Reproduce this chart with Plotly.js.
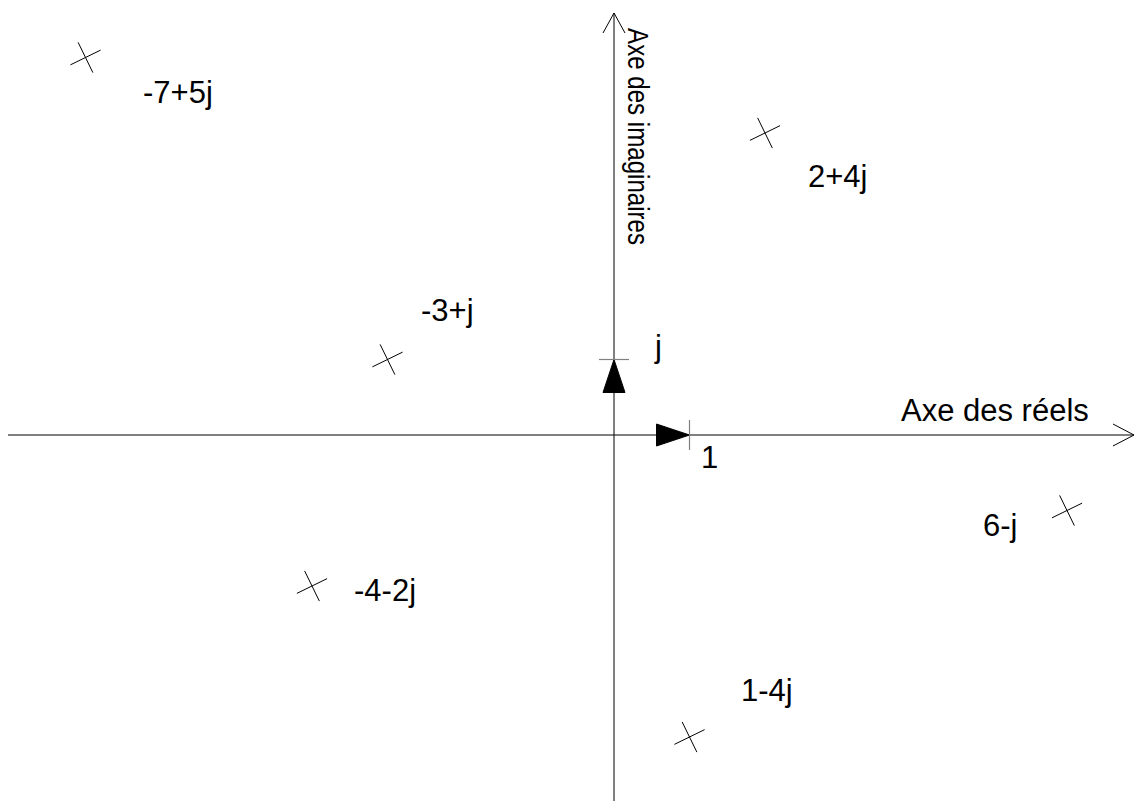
<!DOCTYPE html>
<html>
<head>
<meta charset="utf-8">
<script src="https://cdn.plot.ly/plotly-3.0.1.min.js"></script>
<style>
    html, body { margin: 0; padding: 0; background: #ffffff; }
    #plan-complexe { width: 1135px; height: 801px; }
</style>
</head>
<body>
<div id="plan-complexe"></div>
<script>
// Points of the complex plane
const realParts = [-7, 2, -3, 6, -4, 1];
const imagParts = [5, 4, 1, -1, -2, -4];
const pointLabels = ['-7+5j', '2+4j', '-3+j', '6-j', '-4-2j', '1-4j'];

// Unit vectors
const unitLabels = ['1', 'j'];

// Axis titles
const axisTitles = ['Axe des réels', 'Axe des imaginaires'];

const W = 1135;
const H = 801;
const ORIGIN = { x: 614, y: 435 };   // pixel position of 0+0j
const UNIT = 75.5;                    // pixels per unit

const FONT = { family: '"Liberation Sans", Arial, sans-serif', size: 31, color: '#000000' };
const VFONT = { family: '"Liberation Sans", Arial, sans-serif', size: 29, color: '#000000' };
const VTITLE_LENGTH = 217;            // the vertical title is drawn condensed

// label offsets from each point, in screen pixels (right, down)
const labelShift = [[92, 35], [72, 43], [60, -49], [-67, 15], [73, 4], [77, -47]];

const crosses = {
    x: realParts,
    y: imagParts,
    mode: 'markers',
    type: 'scatter',
    hoverinfo: 'skip',
    marker: {
        symbol: 'cross-thin',
        size: 24,
        angle: -26,
        color: '#000000',
        line: { color: '#000000', width: 1 }
    }
};

const centered = { showarrow: false, xanchor: 'center', yanchor: 'middle' };

const annotations = pointLabels.map((t, i) => Object.assign({
    x: realParts[i],
    y: imagParts[i],
    text: t,
    xshift: labelShift[i][0],
    yshift: -labelShift[i][1],
    font: FONT
}, centered));

// unit vector labels
annotations.push(Object.assign({ x: 1, y: 0, text: unitLabels[0], xshift: 20, yshift: -22, font: FONT }, centered));
annotations.push(Object.assign({ x: 0, y: 1, text: unitLabels[1], xshift: 44, yshift: 13, font: FONT }, centered));

// axis titles
annotations.push(Object.assign({
    xref: 'paper', x: 995 / W, y: 0, text: axisTitles[0], yshift: 25, font: FONT
}, centered));
annotations.push(Object.assign({
    x: 0, yref: 'paper', y: 1 - 136 / H, text: axisTitles[1], xshift: 24, textangle: 90, font: VFONT
}, centered));

const axisLine = { color: '#000000', width: 1 };
const tickLine = { color: '#808080', width: 1.2 };

function pixelPath(xref, xanchor, yref, yanchor, path, extra) {
    return Object.assign({
        type: 'path', xref, xanchor, xsizemode: 'pixel',
        yref, yanchor, ysizemode: 'pixel', path, line: axisLine
    }, extra || {});
}

const shapes = [
    // real axis
    { type: 'line', xref: 'paper', x0: 8 / W, x1: 1134 / W, yref: 'y', y0: 0, y1: 0, line: axisLine },
    pixelPath('paper', 1134 / W, 'y', 0, 'M-21,11 L0,0 L-21,-11'),
    // imaginary axis
    { type: 'line', xref: 'x', x0: 0, x1: 0, yref: 'paper', y0: 0, y1: 1 - 13 / H, line: axisLine },
    pixelPath('x', 0, 'paper', 1 - 13 / H, 'M-11,-20 L0,0 L11,-20'),
    // unit vector 1
    pixelPath('x', 1, 'y', 0, 'M0,0 L-33,11 L-33,-11 Z', { fillcolor: '#000000' }),
    pixelPath('x', 1, 'y', 0, 'M0,15 L0,-15', { line: tickLine }),
    // unit vector j
    pixelPath('x', 0, 'y', 1, 'M0,0 L-11,-33 L11,-33 Z', { fillcolor: '#000000' }),
    pixelPath('x', 0, 'y', 1, 'M-15,0 L15,0', { line: tickLine })
];

const hiddenAxis = { visible: false, showgrid: false, zeroline: false, fixedrange: true };

const layout = {
    width: W,
    height: H,
    margin: { l: 0, r: 0, t: 0, b: 0, pad: 0 },
    paper_bgcolor: '#ffffff',
    plot_bgcolor: '#ffffff',
    showlegend: false,
    xaxis: Object.assign({ range: [-ORIGIN.x / UNIT, (W - ORIGIN.x) / UNIT] }, hiddenAxis),
    yaxis: Object.assign({ range: [-(H - ORIGIN.y) / UNIT, ORIGIN.y / UNIT] }, hiddenAxis),
    shapes,
    annotations
};

Plotly.newPlot('plan-complexe', [crosses], layout, { staticPlot: true }).then(gd => {
    // squeeze the vertical title like in the original drawing
    gd.querySelectorAll('text.annotation-text').forEach(el => {
        if (el.textContent === axisTitles[1]) {
            el.setAttribute('textLength', VTITLE_LENGTH);
            el.setAttribute('lengthAdjust', 'spacingAndGlyphs');
        }
    });
});
</script>
</body>
</html>
